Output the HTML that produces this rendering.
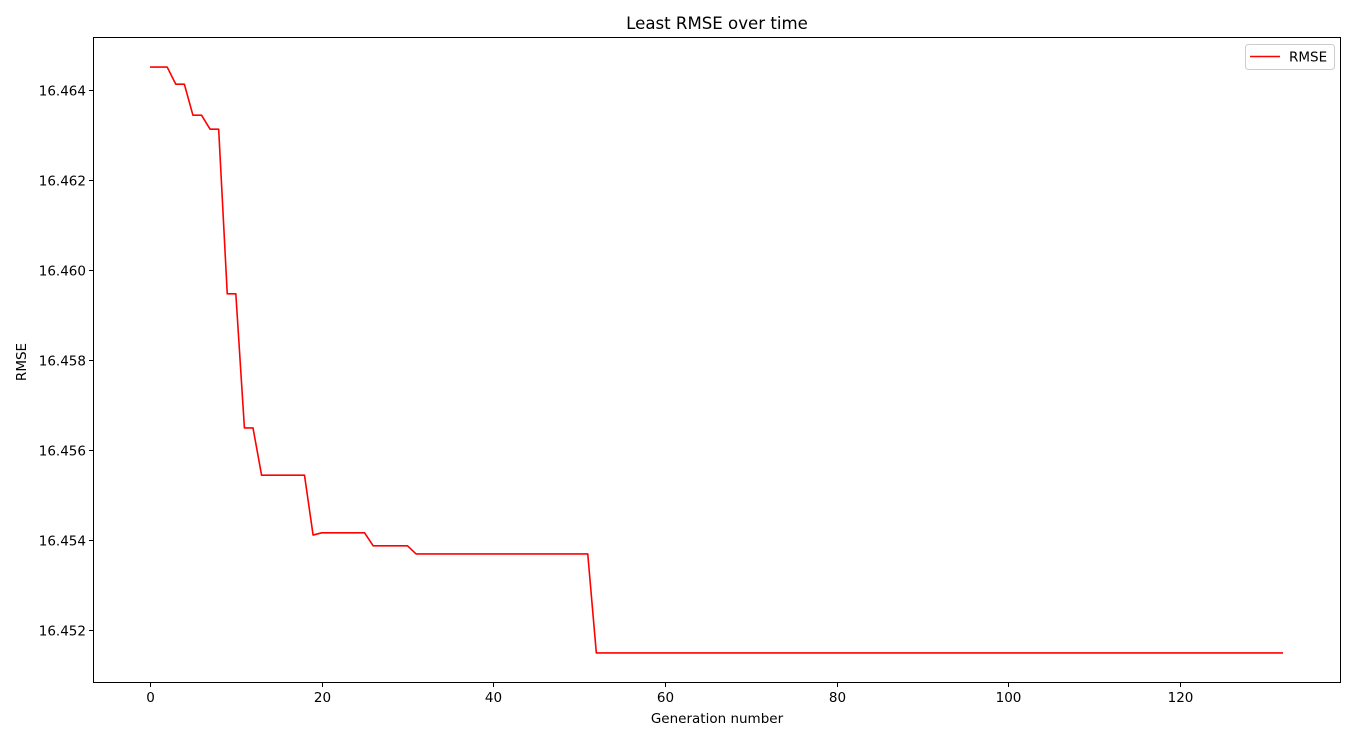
<!DOCTYPE html>
<html><head><meta charset="utf-8"><style>
html,body{margin:0;padding:0;background:#fff;}
svg{display:block;font-family:"DejaVu Sans","Liberation Sans",sans-serif;}
</style></head><body>
<svg id="chart" width="1356" height="741"></svg>
<script>
const xTicks=[0,20,40,60,80,100,120];
const yTicks=[16.452,16.454,16.456,16.458,16.460,16.462,16.464];
const generations=[];
const rmse=[16.46451,16.46451,16.46451,16.46413,16.46413,16.46344,16.46344,16.46313,16.46313,16.45947,16.45947,16.45649,16.45649,
16.45544,16.45544,16.45544,16.45544,16.45544,16.45544,16.45411,
16.45416,16.45416,16.45416,16.45416,16.45416,16.45416,
16.45387,16.45387,16.45387,16.45387,16.45387,
16.45369,16.45369,16.45369,16.45369,16.45369,16.45369,16.45369,16.45369,16.45369,16.45369,16.45369,16.45369,16.45369,16.45369,16.45369,16.45369,16.45369,16.45369,16.45369,16.45369,16.45369,
16.45149,16.45149,16.45149,16.45149,16.45149,16.45149,16.45149,16.45149,16.45149,16.45149,16.45149,16.45149,16.45149,16.45149,16.45149,16.45149,16.45149,16.45149,16.45149,16.45149,16.45149,16.45149,16.45149,16.45149,16.45149,16.45149,16.45149,16.45149,16.45149,16.45149,16.45149,16.45149,16.45149,16.45149,16.45149,16.45149,16.45149,16.45149,16.45149,16.45149,16.45149,16.45149,16.45149,16.45149,16.45149,16.45149,16.45149,16.45149,16.45149,16.45149,16.45149,16.45149,16.45149,16.45149,16.45149,16.45149,16.45149,16.45149,16.45149,16.45149,16.45149,16.45149,16.45149,16.45149,16.45149,16.45149,16.45149,16.45149,16.45149,16.45149,16.45149,16.45149,16.45149,16.45149,16.45149,
16.45149,16.45149,16.45149,16.45149,16.45149,16.45149];
for(let i=0;i<rmse.length;i++) generations.push(i);

const L=93,R=1341,T=37,B=683;
const xs=v=>150+v*(1180-150)/120;
const ys=v=>630-(v-16.452)*45000;
const NS="http://www.w3.org/2000/svg";
const svg=document.getElementById('chart');
function mk(tag,attrs,parent){const e=document.createElementNS(NS,tag);for(const k in attrs)e.setAttribute(k,attrs[k]);(parent||svg).appendChild(e);return e;}

const frame=mk('rect',{x:L+0.5,y:T+0.5,width:R-L-1,height:B-T-1,fill:'none',stroke:'#000','stroke-width':1});



xTicks.forEach(v=>{
  const x=Math.round(xs(v))+0.5;
  const t=mk('line',{x1:x,x2:x,y1:B,y2:B+4,stroke:'#000'});
  
  
  const tx=mk('text',{x:x,y:B+19,'text-anchor':'middle','font-size':13.5,fill:'#000'});
  tx.textContent=v;
  
  
});
yTicks.forEach(v=>{
  const y=Math.round(ys(v))+0.5;
  const t=mk('line',{x1:L-4,x2:L,y1:y,y2:y,stroke:'#000'});
  
  
  const tx=mk('text',{x:L-7,y:y+5,'text-anchor':'end','font-size':13.5,fill:'#000'});
  tx.textContent=v.toFixed(3);
  
  
});

const pts=generations.map((g,i)=>xs(g).toFixed(2)+','+ys(rmse[i]).toFixed(2)).join(' ');
const line=mk('polyline',{points:pts,fill:'none',stroke:'#ff0000','stroke-width':1.6,'stroke-linejoin':'round'});



const title=mk('text',{x:717,y:29,'text-anchor':'middle','font-size':16.6,fill:'#000'});
title.textContent='Least RMSE over time';


const xl=mk('text',{x:717,y:723,'text-anchor':'middle','font-size':13.5,fill:'#000'});
xl.textContent='Generation number';


const yl=mk('text',{x:0,y:0,'text-anchor':'middle','font-size':13.5,fill:'#000',transform:'translate(26,362) rotate(-90)'});
yl.textContent='RMSE';



const lg=mk('g',{});


mk('rect',{x:1245.5,y:44.5,width:89,height:25,rx:3,fill:'#fff',stroke:'#ccc'},lg);
const ll=mk('line',{x1:1250,x2:1280,y1:56.5,y2:56.5,stroke:'#ff0000','stroke-width':1.6},lg);


const lt=mk('text',{x:1289,y:61.5,'font-size':13.5,fill:'#000'},lg);
lt.textContent='RMSE';


</script>
</body></html>
